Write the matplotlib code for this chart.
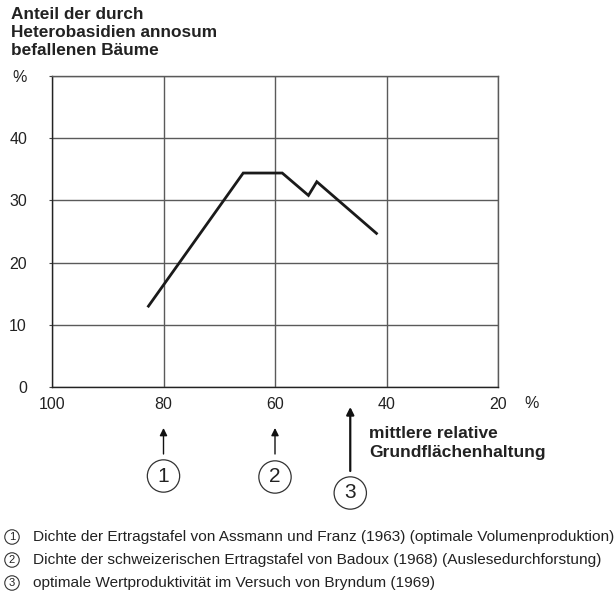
import matplotlib
matplotlib.use("Agg")
import matplotlib.pyplot as plt

plt.rcParams['font.family'] = ['Liberation Sans', 'DejaVu Sans']

# Grundflächenhaltung (%) vs. Anteil befallener Bäume (%)
grundflaeche = [82.7, 65.7, 58.7, 54.0, 52.5, 41.8]
befall = [13.0, 34.4, 34.4, 30.8, 33.0, 24.7]

x_ticks = [100, 80, 60, 40, 20]
y_ticks = [0, 10, 20, 30, 40, 50]
y_labels = ['0', '10', '20', '30', '40', '%']

marker_x = [80, 60, 46.5]
marker_nums = ['1', '2', '3']
legend_texts = [
    'Dichte der Ertragstafel von Assmann und Franz (1963) (optimale Volumenproduktion)',
    'Dichte der schweizerischen Ertragstafel von Badoux (1968) (Auslesedurchforstung)',
    'optimale Wertproduktivität im Versuch von Bryndum (1969)',
]

fig = plt.figure(figsize=(6.16, 6.0), dpi=100)
ax = fig.add_axes([52/616, 1-387/600, 446/616, 311/600])

ax.plot(grundflaeche, befall, color='#1a1a1a', lw=2.0, solid_joinstyle='miter')

ax.set_xlim(100, 20)
ax.set_ylim(0, 50)
ax.set_xticks(x_ticks)
ax.set_xticklabels([str(v) for v in x_ticks])
ax.set_yticks(y_ticks)
ax.set_yticklabels(y_labels)
ax.grid(True, color='#5a5a5a', lw=1.0)
ax.set_axisbelow(True)
for side, s in ax.spines.items():
    s.set_color('#222222' if side in ('left', 'bottom') else '#5a5a5a')
    s.set_linewidth(1.0)
ax.tick_params(axis='x', length=0, pad=7, labelsize=11.5, colors='#222222')
ax.tick_params(axis='y', length=2, pad=16, labelsize=11.5, colors='#222222', color='#444444')

# "%" at the end of the x axis
fig.text(532/616, 1-403/600, '%', ha='center', va='center', fontsize=11.5, color='#222222')

# title
fig.text(11/616, 1-7/600, 'Anteil der durch\nHeterobasidien annosum\nbefallenen Bäume',
         ha='left', va='top', fontsize=12.4, fontweight='bold', linespacing=1.25, color='#222222')

# arrows and circled numbers below the axis
arrow_px = [(454, 428, 1.0), (454, 428, 1.0), (471, 407, 1.6)]
circle_px = [476, 477, 493]
for xv, num, (y0, y1, lw), cy in zip(marker_x, marker_nums, arrow_px, circle_px):
    ax.annotate('', xy=(xv, 600 - y1), xytext=(xv, 600 - y0),
                xycoords=('data', 'figure pixels'), textcoords=('data', 'figure pixels'),
                arrowprops=dict(arrowstyle='-|>', color='#111111', lw=lw,
                                mutation_scale=11, shrinkA=0, shrinkB=0),
                annotation_clip=False)
    ax.annotate(num, xy=(xv, 600 - cy), xycoords=('data', 'figure pixels'),
                ha='center', va='center', fontsize=15, color='#222222',
                bbox=dict(boxstyle='circle,pad=0.32', fc='white', ec='#333333', lw=0.9),
                annotation_clip=False)

ax.annotate('mittlere relative\nGrundflächenhaltung', xy=(43.1, 600 - 443),
            xycoords=('data', 'figure pixels'), ha='left', va='center',
            fontsize=12.5, fontweight='bold', linespacing=1.3, color='#222222',
            annotation_clip=False)

# legend
for i, (num, txt) in enumerate(zip(marker_nums, legend_texts)):
    y = 1 - (537 + 23 * i) / 600
    fig.text(12/616, y, num, ha='center', va='center', fontsize=8, color='#222222',
             bbox=dict(boxstyle='circle,pad=0.2', fc='white', ec='#333333', lw=0.8))
    fig.text(33/616, y, txt, ha='left', va='center', fontsize=11.1, color='#222222')

fig.savefig('out.png', dpi=100)
